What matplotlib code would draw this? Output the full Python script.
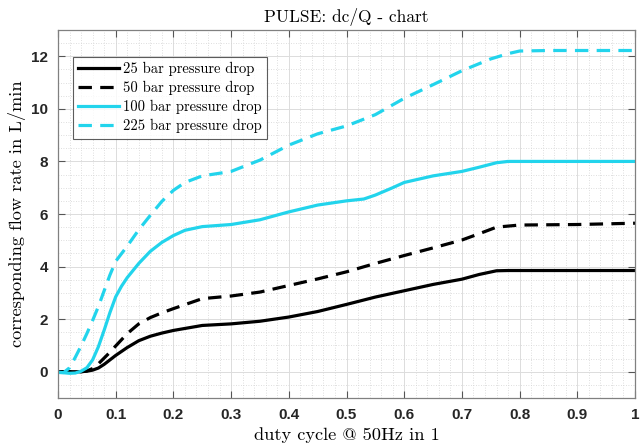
import matplotlib
matplotlib.use("Agg")
import matplotlib.pyplot as plt
from matplotlib.ticker import MultipleLocator

# ---- data ----
x_25 = [0.0, 0.02, 0.04, 0.05, 0.06, 0.07, 0.08, 0.09, 0.10, 0.12, 0.14, 0.16, 0.18, 0.20,
        0.25, 0.30, 0.35, 0.40, 0.45, 0.50, 0.55, 0.60, 0.65, 0.70, 0.73, 0.76, 0.78, 0.85, 0.90, 1.0]
y_25 = [0.0, 0.0, 0.0, 0.02, 0.06, 0.14, 0.28, 0.45, 0.62, 0.92, 1.18, 1.35, 1.47, 1.57,
        1.76, 1.82, 1.92, 2.08, 2.29, 2.56, 2.84, 3.08, 3.32, 3.52, 3.70, 3.84, 3.85, 3.85, 3.85, 3.85]

x_50 = [0.0, 0.02, 0.04, 0.05, 0.06, 0.07, 0.08, 0.09, 0.10, 0.12, 0.14, 0.16, 0.18, 0.20,
        0.25, 0.30, 0.35, 0.40, 0.45, 0.50, 0.55, 0.60, 0.65, 0.70, 0.73, 0.76, 0.80, 0.90, 1.0]
y_50 = [0.0, 0.0, 0.0, 0.03, 0.12, 0.30, 0.52, 0.74, 0.98, 1.45, 1.82, 2.06, 2.24, 2.40,
        2.78, 2.88, 3.03, 3.28, 3.53, 3.80, 4.12, 4.42, 4.71, 5.01, 5.25, 5.50, 5.58, 5.60, 5.65]

x_100 = [0.0, 0.02, 0.03, 0.04, 0.05, 0.06, 0.07, 0.08, 0.09, 0.10, 0.11, 0.12, 0.14, 0.16,
         0.18, 0.20, 0.22, 0.25, 0.30, 0.35, 0.40, 0.45, 0.50, 0.53, 0.55, 0.58, 0.60, 0.65,
         0.70, 0.73, 0.76, 0.78, 0.85, 0.90, 1.0]
y_100 = [-0.02, -0.06, -0.05, 0.02, 0.15, 0.45, 0.95, 1.58, 2.25, 2.85, 3.25, 3.58, 4.12, 4.58,
         4.92, 5.18, 5.38, 5.52, 5.60, 5.78, 6.08, 6.34, 6.50, 6.57, 6.72, 7.00, 7.20, 7.45,
         7.62, 7.78, 7.95, 8.00, 8.00, 8.00, 8.00]

x_225 = [0.0, 0.01, 0.02, 0.03, 0.04, 0.05, 0.06, 0.07, 0.08, 0.09, 0.10, 0.12, 0.14, 0.16,
         0.18, 0.20, 0.22, 0.25, 0.28, 0.30, 0.35, 0.40, 0.45, 0.50, 0.55, 0.60, 0.65, 0.70,
         0.75, 0.78, 0.80, 0.85, 0.90, 1.0]
y_225 = [-0.03, -0.03, 0.15, 0.55, 0.98, 1.45, 1.95, 2.48, 3.08, 3.68, 4.20, 4.78, 5.40, 5.95,
         6.48, 6.90, 7.20, 7.45, 7.55, 7.62, 8.05, 8.62, 9.05, 9.35, 9.78, 10.40, 10.92, 11.45,
         11.90, 12.10, 12.20, 12.22, 12.22, 12.22]

labels = ["25 bar pressure drop", "50 bar pressure drop",
          "100 bar pressure drop", "225 bar pressure drop"]
cyan = "#22d4ec"

serif = ["cmr10", "DejaVu Serif"]
tickfont = "Liberation Sans"

fig = plt.figure(figsize=(6.41, 4.48), dpi=100)
ax = fig.add_axes([58 / 641, 50 / 448, 577 / 641, 368 / 448])

dash = (0, (4.2, 2.6))
lw = 2.3
ax.plot(x_25, y_25, color="black", lw=lw, label=labels[0])
ax.plot(x_50, y_50, color="black", lw=lw, ls=dash, label=labels[1])
ax.plot(x_100, y_100, color=cyan, lw=lw, label=labels[2])
ax.plot(x_225, y_225, color=cyan, lw=lw, ls=dash, label=labels[3])

ax.set_xlim(0, 1)
ax.set_ylim(-1, 13)
ax.xaxis.set_major_locator(MultipleLocator(0.1))
ax.xaxis.set_minor_locator(MultipleLocator(0.02))
ax.yaxis.set_major_locator(MultipleLocator(2))
ax.yaxis.set_minor_locator(MultipleLocator(0.5))
ax.set_xticks([0, 0.1, 0.2, 0.3, 0.4, 0.5, 0.6, 0.7, 0.8, 0.9, 1.0])
ax.set_xticklabels(["0", "0.1", "0.2", "0.3", "0.4", "0.5", "0.6", "0.7", "0.8", "0.9", "1"])
ax.set_yticks([0, 2, 4, 6, 8, 10, 12])

ax.grid(which="major", color="#dcdcdc", lw=0.7, ls="-")
ax.grid(which="minor", color="#d4d4d4", lw=0.6, ls=(0, (1, 2)))
ax.set_axisbelow(True)

ax.tick_params(which="major", direction="in", length=5, width=0.8, color="#555555",
               top=True, right=True, labelsize=11, labelcolor="#262626", pad=7)
ax.tick_params(which="minor", length=0, top=True, right=True)
for lab in ax.get_xticklabels() + ax.get_yticklabels():
    lab.set_fontfamily(tickfont)
    lab.set_fontweight("bold")
for s in ax.spines.values():
    s.set_color("#808080")
    s.set_linewidth(0.9)

ax.set_title("PULSE: dc/Q - chart", family=serif, fontsize=12.5, pad=6)
ax.set_xlabel("duty cycle @ 50Hz in 1", family=serif, fontsize=13.2, labelpad=4)
ax.set_ylabel("corresponding flow rate in L/min", family=serif, fontsize=13.2, labelpad=4)

leg = ax.legend(loc="upper left", bbox_to_anchor=(15 / 577, 1 - 27 / 368),
                prop={"family": serif, "size": 10.5}, frameon=True, fancybox=False,
                handlelength=2.8, handletextpad=0.3, borderpad=0.35, labelspacing=0.33,
                borderaxespad=0)
leg.get_frame().set_edgecolor("#333333")
leg.get_frame().set_linewidth(0.8)

fig.savefig("out.png", dpi=100)
